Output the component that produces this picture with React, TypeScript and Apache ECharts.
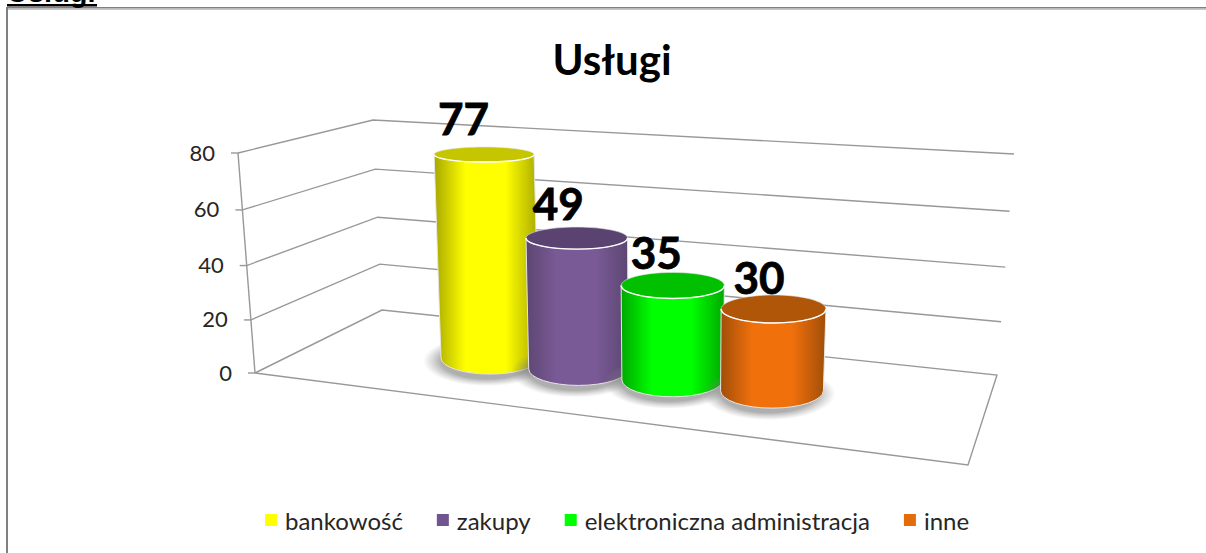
import React, { useEffect, useRef } from "react";
import * as echarts from "echarts";

const categories = ["bankowość", "zakupy", "elektroniczna administracja", "inne"];
const values = [77, 49, 35, 30];
const axisTicks = [0, 20, 40, 60, 80];
const barColors = ["#ffff00", "#7a5a96", "#00ff00", "#f0700c"];
const edgeColors = ["#a8a800", "#5c4672", "#00a800", "#a04e08"];
const lidColors = ["#c6c600", "#5a4370", "#00c000", "#b05608"];
const legendColors = ["#ffff00", "#70558f", "#00ff00", "#e46c0a"];

const FONT = "Lato";
const LINE = "#989898";
const AXIS_MAX = 80;

// wall corners of the 3-D box, for the axis minimum and maximum
const FRONT = { lo: [255, 373], hi: [238, 153] };
const BACK = { lo: [382, 310], hi: [373, 120] };
const RIGHT = { lo: [997, 375], hi: [1014, 154] };
const FLOOR_NEAR = [968, 465];

// the projected height of the axis is slightly non-linear
const warp = (v: number) => (2.62 * v + 0.0016 * v * v) / (2.62 * AXIS_MAX + 0.0016 * AXIS_MAX * AXIS_MAX);
const wall = (c: { lo: number[]; hi: number[] }, v: number) => {
  const t = warp(v);
  return [c.lo[0] + (c.hi[0] - c.lo[0]) * t, c.lo[1] + (c.hi[1] - c.lo[1]) * t];
};
const lineStyle = { stroke: LINE, lineWidth: 1.4, fill: "none" };

const renderWall = (_: any, api: any) => {
  const v = api.value(0);
  const f = wall(FRONT, v);
  const b = wall(BACK, v);
  const r = wall(RIGHT, v);
  const children: any[] = [
    { type: "polyline", shape: { points: v === 0 ? [f, FLOOR_NEAR, r, b, f] : [f, b, r] }, style: lineStyle },
    { type: "line", shape: { x1: f[0] - 7, y1: f[1], x2: f[0], y2: f[1] }, style: lineStyle },
    {
      type: "text",
      style: {
        x: f[0] - 23,
        y: f[1] - 1,
        text: String(v),
        align: "right",
        verticalAlign: "middle",
        fontFamily: FONT,
        fontSize: 22,
        fill: "#262626",
      },
    },
  ];
  if (v === 0) {
    children.push({ type: "line", shape: { x1: f[0], y1: f[1], x2: FRONT.hi[0], y2: FRONT.hi[1] }, style: lineStyle });
  }
  return { type: "group", children };
};

const cylinder = (api: any, i: number, v: number) => {
  const base = api.coord([i, 0]);
  const head = api.coord([i, v]);
  const gx = base[0] + 2.75 * (i - 1.5) * (i - 1.5) - 3.2;
  const gy = 358 + i * 10.9;
  const h = (base[1] - head[1]) * (0.961 + 0.0097 * i);
  const ty = gy - h;
  const tx = gx + h * (-0.029 + 0.016 * i);
  const rxT = 50 + 0.8 * i;
  const rxG = 49 + 0.8 * i;
  const ryOf = (y: number) => 7.5 + (y - 154) * 0.042;
  return { gx, gy, tx, ty, rxT, rxG, ryT: ryOf(ty), ryG: ryOf(gy) };
};

const renderCylinder = (i: number) => (_: any, api: any) => {
  const v = api.value(1);
  const c = cylinder(api, i, v);
  const side =
    `M ${c.tx - c.rxT} ${c.ty} L ${c.gx - c.rxG} ${c.gy} ` +
    `A ${c.rxG} ${c.ryG} 0 0 0 ${c.gx + c.rxG} ${c.gy} L ${c.tx + c.rxT} ${c.ty} Z`;
  const rim = `M ${c.tx - c.rxT} ${c.ty} A ${c.rxT} ${c.ryT} 0 0 0 ${c.tx + c.rxT} ${c.ty}`;
  const shadowFill = new echarts.graphic.RadialGradient(0.5, 0.5, 0.5, [
    { offset: 0, color: "rgba(110,110,110,0.6)" },
    { offset: 0.72, color: "rgba(110,110,110,0.55)" },
    { offset: 1, color: "rgba(140,140,140,0)" },
  ]);
  const sideFill = new echarts.graphic.LinearGradient(0, 0, 1, 0, [
    { offset: 0, color: edgeColors[i] },
    { offset: 0.3, color: barColors[i] },
    { offset: 0.68, color: barColors[i] },
    { offset: 1, color: edgeColors[i] },
  ]);
  return {
    type: "group",
    children: [
      {
        type: "ellipse",
        shape: { cx: c.gx - 3, cy: c.gy + 3, rx: c.rxG + 15, ry: c.ryG + 9 },
        style: { fill: shadowFill },
      },
      { type: "path", shape: { pathData: side }, style: { fill: sideFill, stroke: "#e6e6e6", lineWidth: 1 } },
      {
        type: "ellipse",
        shape: { cx: c.tx, cy: c.ty, rx: c.rxT, ry: c.ryT },
        style: { fill: lidColors[i], stroke: "#e6e6e6", lineWidth: 0.6 },
      },
      { type: "path", shape: { pathData: rim }, style: { fill: "none", stroke: "#ffffff", lineWidth: 1.4 } },
    ],
  };
};

const renderLabel = (_: any, api: any) => {
  const i = api.value(0);
  const v = api.value(1);
  const c = cylinder(api, i, v);
  return {
    type: "text",
    style: {
      x: c.tx - 20.5 + 2 * i,
      y: c.ty - 37 + 1.6 * i,
      text: String(v),
      align: "center",
      verticalAlign: "middle",
      fontFamily: FONT,
      fontWeight: "bold",
      fontSize: 44,
      fill: "#000000",
      stroke: "#000000",
      lineWidth: 0.8,
    },
  };
};

export default function App() {
  const ref = useRef<HTMLDivElement>(null);
  useEffect(() => {
    document.body.style.margin = "0";
    const chart = echarts.init(ref.current!, null, { renderer: "svg" });
    chart.setOption({
      animation: false,
      backgroundColor: "#ffffff",
      title: {
        text: "Usługi",
        left: 607,
        top: 33,
        textAlign: "center",
        textStyle: { fontFamily: FONT, fontWeight: "bold", fontSize: 42, color: "#000000" },
      },
      grid: { left: 440, top: 153, width: 376, height: 220 },
      xAxis: { type: "category", data: categories, show: false },
      yAxis: { type: "value", min: 0, max: AXIS_MAX, interval: 20, show: false },
      legend: {
        left: 260,
        top: 503,
        itemWidth: 12,
        itemHeight: 12,
        itemGap: 34,
        icon: "rect",
        selectedMode: false,
        data: categories.map((name, i) => ({ name, itemStyle: { color: legendColors[i] } })),
        textStyle: { fontFamily: FONT, fontSize: 24, color: "#262626", padding: [0, 0, 0, 3] },
      },
      graphic: [
        { type: "rect", shape: { x: 6, y: 7, width: 1200, height: 1.6 }, style: { fill: "#808080" } },
        { type: "rect", shape: { x: 6, y: 8.6, width: 1200, height: 1.2 }, style: { fill: "#b4b4b4" } },
        { type: "rect", shape: { x: 6, y: 7, width: 2, height: 546 }, style: { fill: "#808080" } },
        { type: "rect", shape: { x: 7, y: 4, width: 90, height: 2.6 }, style: { fill: "#000000" } },
        {
          type: "text",
          style: {
            x: 7,
            y: -23,
            text: "Usługi",
            fontFamily: "Liberation Sans",
            fontWeight: "bold",
            fontSize: 29,
            fill: "#000000",
          },
        },
      ],
      series: [
        {
          type: "custom",
          name: "siatka",
          silent: true,
          z: 1,
          data: axisTicks.map((t) => [t]),
          encode: { y: 0 },
          renderItem: renderWall,
        },
        ...categories.map((name, i) => ({
          type: "custom",
          name,
          silent: true,
          z: 2,
          itemStyle: { color: legendColors[i] },
          data: [[i, values[i]]],
          encode: { x: 0, y: 1 },
          renderItem: renderCylinder(i),
        })),
        {
          type: "custom",
          name: "etykiety",
          silent: true,
          z: 3,
          data: values.map((v, i) => [i, v]),
          encode: { x: 0, y: 1 },
          renderItem: renderLabel,
        },
      ],
    });
    return () => chart.dispose();
  }, []);
  return <div ref={ref} style={{ width: 1206, height: 553 }} />;
}
